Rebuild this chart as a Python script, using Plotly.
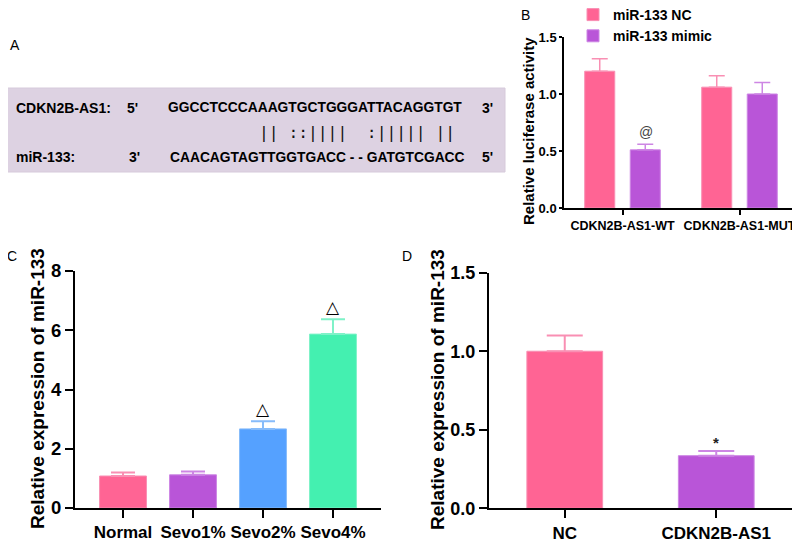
import plotly.graph_objects as go

# ---------------- data ----------------
b_groups = ["CDKN2B-AS1-WT", "CDKN2B-AS1-MUT"]
b_nc = [1.20, 1.06]
b_nc_err = [0.11, 0.10]
b_mimic = [0.51, 1.00]
b_mimic_err = [0.05, 0.10]

c_groups = ["Normal", "Sevo1%", "Sevo2%", "Sevo4%"]
c_vals = [1.08, 1.12, 2.67, 5.87]
c_err = [0.12, 0.11, 0.26, 0.50]
c_marks = ["", "", "△", "△"]

d_groups = ["NC", "CDKN2B-AS1"]
d_vals = [1.00, 0.335]
d_err = [0.10, 0.03]
d_marks = ["", "*"]

seq_top = "GGCCTCCCAAAGTGCTGGGATTACAGGTGT"
seq_pair = "|| ::||||  :||||| ||"
seq_bot = "CAACAGTAGTTGGTGACC - - GATGTCGACC"

PINK, PURPLE, BLUE, GREEN = "#FF6494", "#B955D8", "#55A1FF", "#44F0B0"
PINK_L, PURPLE_L, BLUE_L, GREEN_L = "#F98FB3", "#CD86E4", "#86BBFA", "#7FF2C8"

FONT = "Liberation Sans, Arial, Helvetica, sans-serif"
# the page body has an 8px default margin, so the figure is drawn 8px smaller
OFF = 8
W, H = 800 - OFF, 544 - OFF

def px_x(p):
    return (p - OFF) / W

def px_y(p):
    return 1 - (p - OFF) / H

fig = go.Figure()

# ---------------- panel B ----------------
fig.add_trace(go.Bar(
    x=b_groups, y=b_nc, name="miR-133 NC", xaxis="x", yaxis="y",
    marker=dict(color=PINK, line=dict(color=PINK_L, width=1)),
    error_y=dict(type="data", array=b_nc_err, arrayminus=[0] * len(b_nc_err),
                 symmetric=False, color=PINK_L, thickness=1.5, width=8),
))
fig.add_trace(go.Bar(
    x=b_groups, y=b_mimic, name="miR-133 mimic", xaxis="x", yaxis="y",
    marker=dict(color=PURPLE, line=dict(color=PURPLE_L, width=1)),
    error_y=dict(type="data", array=b_mimic_err, arrayminus=[0] * len(b_mimic_err),
                 symmetric=False, color=PURPLE_L, thickness=1.5, width=8),
))

# ---------------- panel C ----------------
c_colors = [PINK, PURPLE, BLUE, GREEN]
c_lcolors = [PINK_L, PURPLE_L, BLUE_L, GREEN_L]
for i, g in enumerate(c_groups):
    fig.add_trace(go.Bar(
        x=[g], y=[c_vals[i]], xaxis="x2", yaxis="y2", showlegend=False,
        width=0.67,
        marker=dict(color=c_colors[i], line=dict(color=c_lcolors[i], width=1)),
        error_y=dict(type="data", array=[c_err[i]], arrayminus=[0], symmetric=False,
                     color=c_lcolors[i], thickness=2, width=12),
    ))

# ---------------- panel D ----------------
d_colors = [PINK, PURPLE]
d_lcolors = [PINK_L, PURPLE_L]
for i, g in enumerate(d_groups):
    fig.add_trace(go.Bar(
        x=[g], y=[d_vals[i]], xaxis="x3", yaxis="y3", showlegend=False,
        width=0.5,
        marker=dict(color=d_colors[i], line=dict(color=d_lcolors[i], width=1)),
        error_y=dict(type="data", array=[d_err[i]], arrayminus=[0], symmetric=False,
                     color=d_lcolors[i], thickness=2, width=18),
    ))

axis_common = dict(showline=True, linecolor="black", showgrid=False, zeroline=False,
                   ticks="outside", tickcolor="black")

fig.update_layout(
    width=W, height=H, margin=dict(l=0, r=0, t=0, b=0, autoexpand=False),
    paper_bgcolor="white", plot_bgcolor="white",
    barmode="group", bargap=0.222, bargroupgap=0.34,
    font=dict(family=FONT, color="black"),
    showlegend=True,
    legend=dict(x=px_x(573), y=px_y(-1), xanchor="left", yanchor="top",
                font=dict(size=14, weight="bold"), bgcolor="rgba(0,0,0,0)",
                itemwidth=30, tracegroupgap=2),
    xaxis=dict(domain=[px_x(564), px_x(798)], anchor="y", range=[-0.5, 1.5],
               linewidth=1.5, ticklen=5, tickwidth=1.5,
               tickfont=dict(size=12.5, weight="bold"), **axis_common),
    yaxis=dict(domain=[px_y(208), px_y(37)], anchor="x", range=[0, 1.5],
               dtick=0.5, tickformat=".1f", linewidth=1.5, ticklen=3, tickwidth=1.5,
               tickfont=dict(size=13, weight="bold"), **axis_common),
    xaxis2=dict(domain=[px_x(75), px_x(381)], anchor="y2", range=[-0.686, 3.686],
                linewidth=2, ticklen=8, tickwidth=2,
                tickfont=dict(size=17, weight="bold"), **axis_common),
    yaxis2=dict(domain=[px_y(508), px_y(271)], anchor="x2", range=[0, 8],
                dtick=2, linewidth=2, ticklen=8, tickwidth=2,
                tickfont=dict(size=18.5, weight="bold"), **axis_common),
    xaxis3=dict(domain=[px_x(489), px_x(792)], anchor="y3", range=[-0.5, 1.5],
                linewidth=2, ticklen=8, tickwidth=2,
                tickfont=dict(size=17, weight="bold"), **axis_common),
    yaxis3=dict(domain=[px_y(508.3), px_y(272.7)], anchor="x3", range=[0, 1.5],
                dtick=0.5, tickformat=".1f", linewidth=2, ticklen=8, tickwidth=2,
                tickfont=dict(size=18, weight="bold"), **axis_common),
)

ann = []

def paper_text(x, y, text, size, weight="normal", xanchor="center", angle=0,
               color="black", family=FONT):
    ann.append(dict(xref="paper", yref="paper", x=px_x(x), y=px_y(y), text=text,
                    showarrow=False, xanchor=xanchor, yanchor="middle", textangle=angle,
                    font=dict(size=size, weight=weight, color=color, family=family)))

# panel letters
paper_text(15, 45, "A", 14)
paper_text(525, 15, "B", 14)
paper_text(12, 256, "C", 14)
paper_text(407, 256, "D", 14)

# axis titles
paper_text(529, 131, "Relative luciferase activity", 15, "bold", angle=-90)
paper_text(37, 389, "Relative expression of miR-133", 19, "bold", angle=-90)
paper_text(437, 389, "Relative expression of miR-133", 19, "bold", angle=-90)

# panel A text
paper_text(14, 108, "CDKN2B-AS1:", 14, "bold", xanchor="left")
paper_text(125, 108, "5'", 14, "bold", xanchor="left")
paper_text(166, 108, seq_top, 13.8, "bold", xanchor="left")
paper_text(480, 108, "3'", 14, "bold", xanchor="left")
paper_text(257, 132, seq_pair, 16.3, "normal", xanchor="left", color="#111",
           family="DejaVu Sans Mono")
paper_text(14, 157, "miR-133:", 14, "bold", xanchor="left")
paper_text(127, 157, "3'", 14, "bold", xanchor="left")
paper_text(168, 157, seq_bot, 13.8, "bold", xanchor="left")
paper_text(480, 157, "5'", 14, "bold", xanchor="left")

# significance marks
ann.append(dict(xref="x", yref="y", x=b_groups[0], y=b_mimic[0] + b_mimic_err[0],
                text="@", showarrow=False, xshift=23, yshift=12,
                font=dict(size=14, color="#444", family=FONT)))
for i, m in enumerate(c_marks):
    if m:
        ann.append(dict(xref="x2", yref="y2", x=c_groups[i], y=c_vals[i] + c_err[i],
                        text=m, showarrow=False, yshift=12,
                        font=dict(size=17, color="black", family="DejaVu Sans")))
for i, m in enumerate(d_marks):
    if m:
        ann.append(dict(xref="x3", yref="y3", x=d_groups[i], y=d_vals[i] + d_err[i],
                        text=m, showarrow=False, yshift=8,
                        font=dict(size=15, weight="bold", color="#222", family=FONT)))

fig.update_layout(
    annotations=ann,
    shapes=[dict(type="rect", xref="paper", yref="paper", x0=px_x(7), x1=px_x(505),
                 y0=px_y(172), y1=px_y(88), fillcolor="#DDD2E2",
                 line=dict(color="#D6CADB", width=1), layer="below")],
)

fig.write_html("out.html")
